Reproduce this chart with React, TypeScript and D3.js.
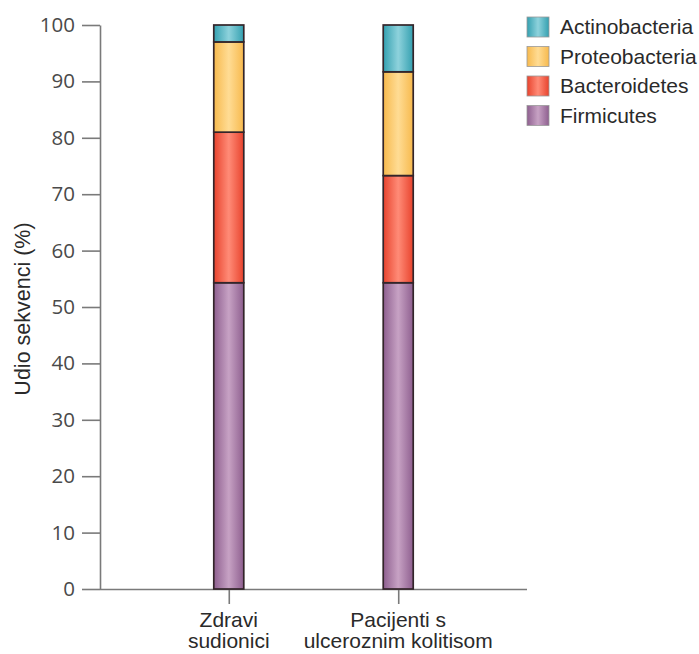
import React, { useEffect, useRef } from 'react';
import * as d3 from 'd3';

const groups = ['Zdravi sudionici', 'Pacijenti s ulceroznim kolitisom'];
const groupLines = [
  ['Zdravi', 'sudionici'],
  ['Pacijenti s', 'ulceroznim kolitisom'],
];
const phyla = ['Firmicutes', 'Bacteroidetes', 'Proteobacteria', 'Actinobacteria'];
const firmicutes = [54.3, 54.3];
const bacteroidetes = [26.7, 19.0];
const proteobacteria = [16.0, 18.4];
const actinobacteria = [3.0, 8.3];
const yTicks = [0, 10, 20, 30, 40, 50, 60, 70, 80, 90, 100];
const colors = ['#8e5f8f', '#e8432d', '#f7b94d', '#34a0b0'];
const lightColors = ['#c7a2c4', '#ff8b77', '#ffdc94', '#8ed2dc'];

export default function App() {
  const ref = useRef<SVGSVGElement>(null);

  useEffect(() => {
    const width = 699;
    const height = 654;
    const margin = { top: 25, bottom: 65, left: 100, right: 172 };

    const svg = d3.select(ref.current);
    svg.selectAll('*').remove();

    const series = [firmicutes, bacteroidetes, proteobacteria, actinobacteria];
    const rows = groups.map((g, i) => {
      const r: { [k: string]: number | string } = { group: g };
      phyla.forEach((p, j) => (r[p] = series[j][i]));
      return r;
    });
    const stacked = d3.stack<any>().keys(phyla)(rows);

    const y = d3
      .scaleLinear()
      .domain([0, 100])
      .range([height - margin.bottom, margin.top]);
    const x = d3
      .scalePoint()
      .domain(groups)
      .range([margin.left, width - margin.right])
      .padding(0.76);
    const barW = 30;

    const defs = svg.append('defs');
    phyla.forEach((p, i) => {
      const grad = defs
        .append('linearGradient')
        .attr('id', `g${i}`)
        .attr('x1', '0%')
        .attr('x2', '100%');
      grad.append('stop').attr('offset', '0%').attr('stop-color', colors[i]);
      grad.append('stop').attr('offset', '50%').attr('stop-color', lightColors[i]);
      grad.append('stop').attr('offset', '100%').attr('stop-color', colors[i]);
    });

    // axes
    const yAxis = svg
      .append('g')
      .attr('transform', `translate(${margin.left},0)`)
      .call(d3.axisLeft(y).tickValues(yTicks).tickSize(18).tickSizeOuter(0).tickPadding(7));
    yAxis.select('.domain').attr('stroke', '#7a7a7a').attr('stroke-width', 1.6);
    yAxis.selectAll('.tick line').attr('stroke', '#7a7a7a').attr('stroke-width', 1.6);
    yAxis
      .selectAll('.tick text')
      .attr('fill', '#4a4a4a')
      .attr('font-family', '"Open Sans", sans-serif')
      .attr('font-size', 20.5);

    const xAxis = svg
      .append('g')
      .attr('transform', `translate(0,${y(0)})`)
      .call(d3.axisBottom(x).tickSize(15).tickSizeOuter(0).tickFormat(() => ''));
    xAxis.select('.domain').attr('d', `M${margin.left},0.5H${width - margin.right}`).attr('stroke', '#7a7a7a').attr('stroke-width', 1.6);
    xAxis.selectAll('.tick line').attr('stroke', '#7a7a7a').attr('stroke-width', 1.6);

    groups.forEach((g, i) => {
      const t = svg
        .append('text')
        .attr('text-anchor', 'middle')
        .attr('font-family', '"Liberation Sans", Arial, sans-serif')
        .attr('font-size', 21)
        .attr('fill', '#2a2a2a');
      groupLines[i].forEach((line, k) =>
        t
          .append('tspan')
          .attr('x', x(g) as number)
          .attr('y', 627 + k * 21)
          .text(line)
      );
    });

    svg
      .append('text')
      .attr('transform', `translate(30,${(y(0) + y(100)) / 2 + 2}) rotate(-90)`)
      .attr('text-anchor', 'middle')
      .attr('font-family', '"Liberation Sans", Arial, sans-serif')
      .attr('font-size', 21.5)
      .attr('fill', '#2a2a2a')
      .text('Udio sekvenci (%)');

    // bars
    stacked.forEach((layer, i) => {
      svg
        .append('g')
        .selectAll('rect')
        .data(layer)
        .enter()
        .append('rect')
        .attr('x', (d: any) => (x(d.data.group) as number) - barW / 2)
        .attr('y', (d) => y(d[1]))
        .attr('width', barW)
        .attr('height', (d) => y(d[0]) - y(d[1]))
        .attr('fill', `url(#g${i})`)
        .attr('stroke', '#33252a')
        .attr('stroke-width', 1.7);
    });

    // legend
    const legend = svg.append('g').attr('transform', 'translate(527,17)');
    const order = [3, 2, 1, 0];
    order.forEach((idx, k) => {
      const row = legend.append('g').attr('transform', `translate(0,${k * 29.5})`);
      row
        .append('rect')
        .attr('width', 22)
        .attr('height', 20)
        .attr('fill', `url(#g${idx})`)
        .attr('stroke', '#9a9a9a')
        .attr('stroke-width', 0.8);
      row
        .append('text')
        .attr('x', 33)
        .attr('y', 17)
        .attr('font-family', '"Liberation Sans", Arial, sans-serif')
        .attr('font-size', 21)
        .attr('fill', '#2a2a2a')
        .text(phyla[idx]);
    });
  }, []);

  return (
    <svg
      ref={ref}
      width={699}
      height={654}
      style={{ position: 'absolute', left: 0, top: 0, background: '#fff' }}
    />
  );
}
